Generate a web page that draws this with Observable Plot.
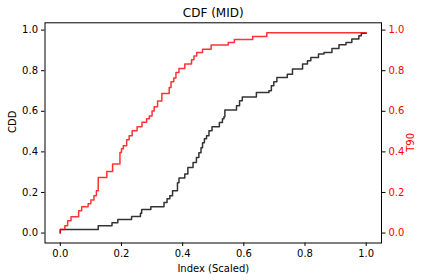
<!DOCTYPE html>
<html>
<head>
<meta charset="utf-8">
<script src="https://cdn.jsdelivr.net/npm/d3@7"></script>
<script src="https://cdn.jsdelivr.net/npm/@observablehq/plot@0.6"></script>
<style>
  html, body { margin: 0; padding: 0; background: #fff; }
  svg { display: block; }
</style>
</head>
<body>
<div id="chart"></div>
<script>
// T90 (red) CDF step vertices
const t90X = [0, 0, 0.015, 0.024, 0.035, 0.060, 0.070, 0.091, 0.100, 0.110, 0.118, 0.124, 0.152, 0.171, 0.195, 0.200, 0.206, 0.217, 0.225, 0.235, 0.251, 0.267, 0.282, 0.291, 0.300, 0.307, 0.318, 0.332, 0.356, 0.362, 0.371, 0.378, 0.388, 0.407, 0.429, 0.437, 0.446, 0.465, 0.493, 0.549, 0.569, 0.629, 0.675, 1.0];
const t90Y = [0, 0.018, 0.036, 0.061, 0.080, 0.110, 0.130, 0.144, 0.163, 0.184, 0.208, 0.274, 0.303, 0.340, 0.397, 0.415, 0.430, 0.460, 0.479, 0.504, 0.524, 0.546, 0.563, 0.577, 0.602, 0.622, 0.651, 0.688, 0.717, 0.745, 0.764, 0.791, 0.811, 0.833, 0.854, 0.873, 0.890, 0.906, 0.926, 0.939, 0.954, 0.968, 0.987, 0.987];

// CDD (black) CDF step vertices
const cddX = [0, 0, 0.124, 0.169, 0.188, 0.233, 0.262, 0.266, 0.296, 0.339, 0.349, 0.358, 0.367, 0.383, 0.388, 0.407, 0.417, 0.434, 0.445, 0.453, 0.460, 0.465, 0.471, 0.478, 0.486, 0.496, 0.520, 0.530, 0.535, 0.538, 0.576, 0.586, 0.595, 0.641, 0.682, 0.690, 0.698, 0.708, 0.742, 0.759, 0.792, 0.808, 0.819, 0.844, 0.862, 0.888, 0.911, 0.934, 0.953, 0.976, 0.984, 1.0];
const cddY = [0, 0.018, 0.036, 0.051, 0.067, 0.082, 0.097, 0.116, 0.130, 0.151, 0.169, 0.184, 0.208, 0.248, 0.271, 0.291, 0.323, 0.348, 0.372, 0.396, 0.420, 0.445, 0.465, 0.479, 0.504, 0.524, 0.545, 0.563, 0.573, 0.606, 0.627, 0.652, 0.671, 0.693, 0.701, 0.726, 0.745, 0.767, 0.783, 0.808, 0.833, 0.849, 0.865, 0.882, 0.890, 0.909, 0.928, 0.939, 0.956, 0.972, 0.985, 0.985];

const tickVals = [0, 0.2, 0.4, 0.6, 0.8, 1.0];
const titleText = "CDF (MID)";
const xLabel = "Index (Scaled)";
const leftLabel = "CDD";
const rightLabel = "T90";

const t90 = t90X.map((x, i) => ({x, y: t90Y[i]}));
const cdd = cddX.map((x, i) => ({x, y: cddY[i]}));

const font = "DejaVu Sans, sans-serif";

const chart = Plot.plot({
  width: 424,
  height: 280,
  marginLeft: 44.5,
  marginRight: 43,
  marginTop: 22.3,
  marginBottom: 37.5,
  style: {fontFamily: font, fontSize: "10px", background: "#fff", color: "#000"},
  x: {domain: [-0.05, 1.05]},
  y: {domain: [-0.049, 1.036]},
  marks: [
    Plot.axisX(tickVals, {tickSize: 3.5, tickPadding: 3.5, tickFormat: d => d.toFixed(1), label: null, fontSize: 10}),
    Plot.axisY(tickVals, {anchor: "left", tickSize: 3.5, tickPadding: 3.5, tickFormat: d => d.toFixed(1), label: null, fontSize: 10}),
    Plot.axisY(tickVals, {anchor: "right", tickSize: 3.5, tickPadding: 3.5, tickFormat: d => d.toFixed(1), label: null, fontSize: 10, fill: "#ff0000", stroke: "#000"}),
    Plot.line(cdd, {x: "x", y: "y", curve: "step-after", stroke: "#000", strokeOpacity: 0.8, strokeWidth: 1.5}),
    Plot.line(t90, {x: "x", y: "y", curve: "step-after", stroke: "#ff0000", strokeOpacity: 0.8, strokeWidth: 1.5}),
    Plot.frame({stroke: "#000", strokeWidth: 1}),
    Plot.text([titleText], {frameAnchor: "top", dy: -10, lineAnchor: "middle", fontSize: 12, fill: "#000"}),
    Plot.text([xLabel], {frameAnchor: "bottom", dy: 26, lineAnchor: "middle", fontSize: 10, fill: "#000"}),
    Plot.text([leftLabel], {frameAnchor: "left", dx: -32.5, rotate: -90, lineAnchor: "middle", fontSize: 10, fill: "#000"}),
    Plot.text([rightLabel], {frameAnchor: "right", dx: 29, rotate: -90, lineAnchor: "middle", fontSize: 10, fill: "#ff0000"})
  ]
});
document.getElementById("chart").appendChild(chart);
</script>
</body>
</html>
